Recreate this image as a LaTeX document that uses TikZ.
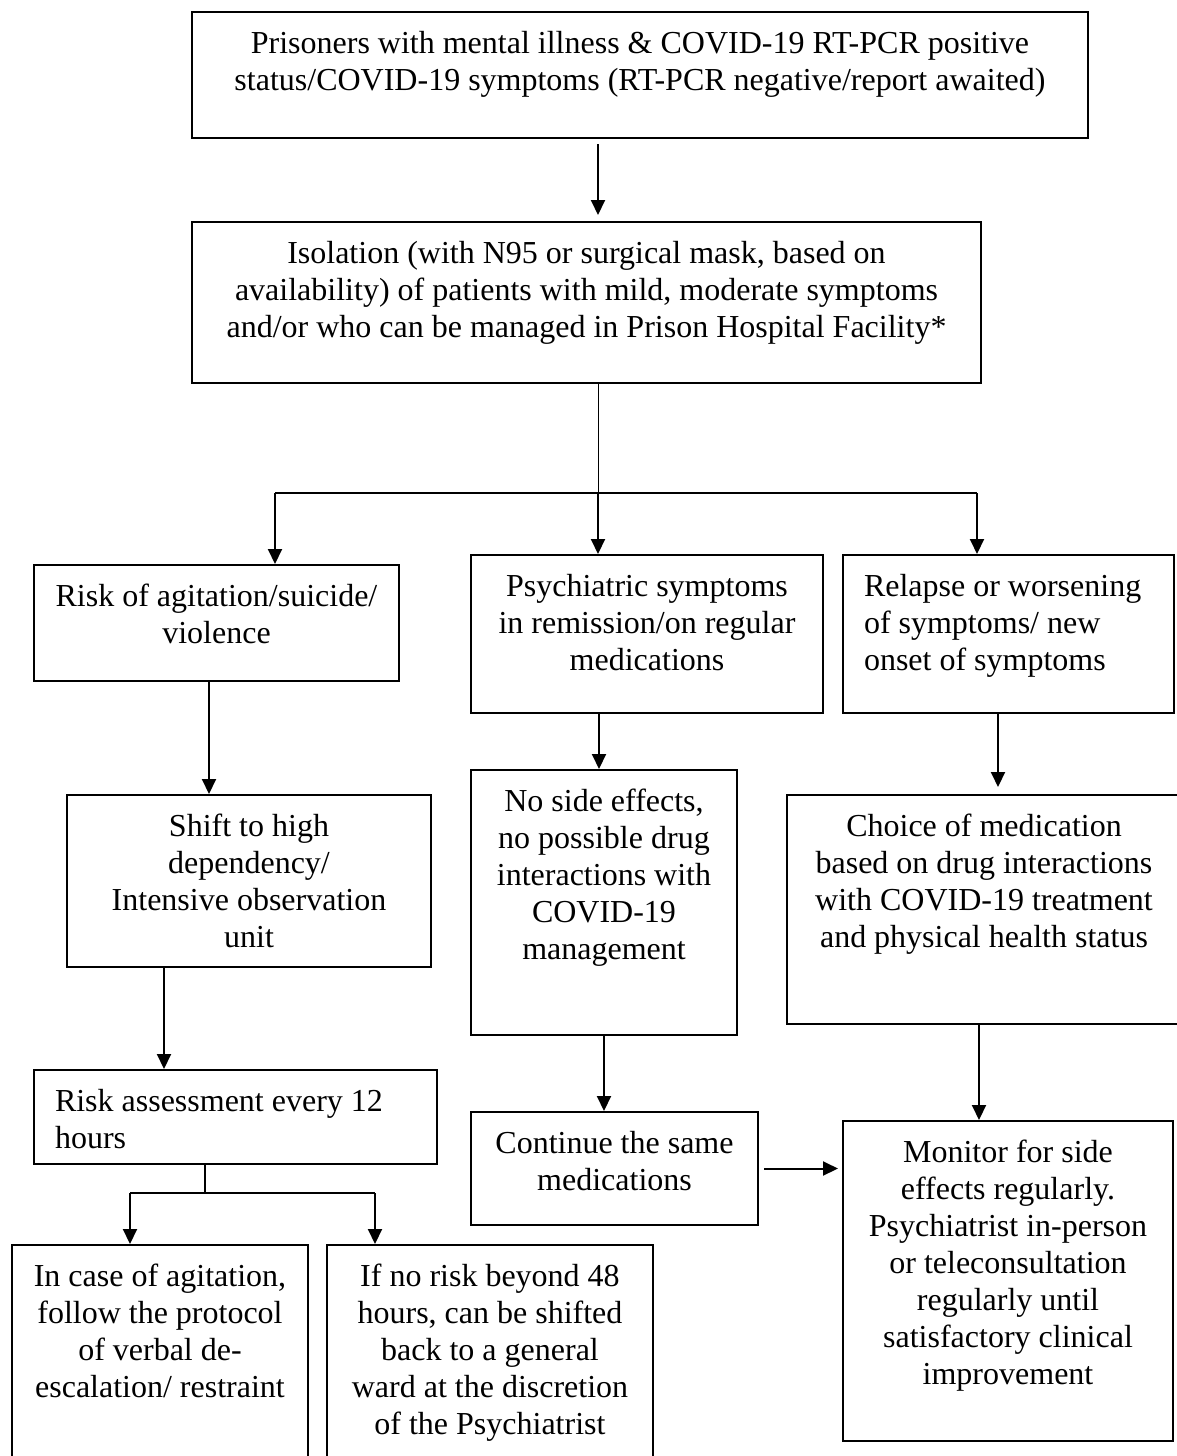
\documentclass[tikz,border=0pt]{standalone}
\usepackage{fontspec}
\setmainfont{Liberation Serif}
\usetikzlibrary{arrows.meta}
\newcommand{\boite}[4]{\parbox[c][#2pt][t]{#1pt}{\vspace*{16pt}#3\strut #4\par}}

\begin{document}
\begin{tikzpicture}[x=1pt, y=-1pt]
\tikzset{cadre/.style={draw, line width=2pt, anchor=north west, inner sep=0pt, font=\fontsize{32pt}{37pt}\selectfont}}
\tikzset{trait/.style={line width=2pt}}
\tikzset{fleche/.style={trait, -{Triangle[length=15pt, width=14pt]}}}
\useasboundingbox (0,0) rectangle (1177,1456);
\fill[white] (0,0) rectangle (1177,1456);
\clip (0,0) rectangle (1177,1456);
% boxes
\node[cadre] (B1) at (191,11) {\boite{896}{126}{\centering}{Prisoners with mental illness \& COVID-19 RT-PCR positive\\ status/COVID-19 symptoms (RT-PCR negative/report awaited)}};
\node[cadre] (B2) at (191,221) {\boite{789}{161}{\centering}{Isolation (with N95 or surgical mask, based on\\ availability) of patients with mild, moderate symptoms\\ and/or who can be managed in Prison Hospital Facility*}};
\node[cadre] (B3) at (33,564) {\boite{365}{116}{\centering}{Risk of agitation/suicide/\\ violence}};
\node[cadre] (B4) at (470,554) {\boite{352}{158}{\centering}{Psychiatric symptoms\\ in remission/on regular\\ medications}};
\node[cadre] (B5) at (842,554) {\boite{331}{158}{\raggedright\leftskip=21pt}{Relapse or worsening\\ of symptoms/ new\\ onset of symptoms}};
\node[cadre] (B6) at (66,794) {\boite{364}{172}{\centering}{Shift to high\\ dependency/\\ Intensive observation\\ unit}};
\node[cadre] (B7) at (470,769) {\boite{266}{265}{\centering}{No side effects,\\ no possible drug\\ interactions with\\ COVID-19\\ management}};
\node[cadre] (B8) at (786,794) {\boite{394}{229}{\centering}{Choice of medication\\ based on drug interactions\\ with COVID-19 treatment\\ and physical health status}};
\node[cadre] (B9) at (33,1069) {\boite{403}{94}{\raggedright\leftskip=21pt}{Risk assessment every 12\\ hours}};
\node[cadre] (B10) at (470,1111) {\boite{287}{113}{\centering}{Continue the same\\ medications}};
\node[cadre] (B11) at (842,1120) {\boite{330}{320}{\centering}{Monitor for side\\ effects regularly.\\ Psychiatrist in-person\\ or teleconsultation\\ regularly until\\ satisfactory clinical\\ improvement}};
\node[cadre] (B12) at (11,1244) {\boite{296}{240}{\centering}{In case of agitation,\\ follow the protocol\\ of verbal de-\\ escalation/ restraint}};
\node[cadre] (B13) at (326,1244) {\boite{326}{240}{\centering}{If no risk beyond 48\\ hours, can be shifted\\ back to a general\\ ward at the discretion\\ of the Psychiatrist}};
% split points
\coordinate (S1) at (598,493);
\coordinate (G1) at (275,493);
\coordinate (D1) at (977,493);
\coordinate (S2) at (205,1193);
\coordinate (G2) at (130,1193);
\coordinate (D2) at (375,1193);
% connectors
\draw[fleche, shorten <=5pt, shorten >=6pt] ([xshift=-42pt]B1.south) -- ([xshift=-42pt]B1.south |- B2.north);
\draw[line width=0.8pt] (B2.south -| S1) -- (S1);
\draw[trait] (G1) -- (D1);
\draw[fleche] (G1) -- (G1 |- B3.north);
\draw[fleche] (S1) -- (S1 |- B4.north);
\draw[fleche] (D1) -- (D1 |- B5.north);
\draw[fleche] ([xshift=-7.5pt]B3.south) -- ([xshift=-7.5pt]B3.south |- B6.north);
\draw[fleche] ([xshift=-48pt]B4.south) -- ([xshift=-48pt]B4.south |- B7.north);
\draw[fleche, shorten >=7pt] ([xshift=-10.5pt]B5.south) -- ([xshift=-10.5pt]B5.south |- B8.north);
\draw[fleche] ([xshift=-85pt]B6.south) -- ([xshift=-85pt]B6.south |- B9.north);
\draw[fleche] (B7.south) -- (B7.south |- B10.north);
\draw[fleche] ([xshift=-5pt]B8.south) -- ([xshift=-5pt]B8.south |- B11.north);
\draw[fleche, shorten <=5pt, shorten >=4pt] (B10.east) -- (B10.east -| B11.west);
\draw[trait] (B9.south -| S2) -- (S2);
\draw[trait] (G2) -- (D2);
\draw[fleche] (G2) -- (G2 |- B12.north);
\draw[fleche] (D2) -- (D2 |- B13.north);
\end{tikzpicture}
\end{document}
